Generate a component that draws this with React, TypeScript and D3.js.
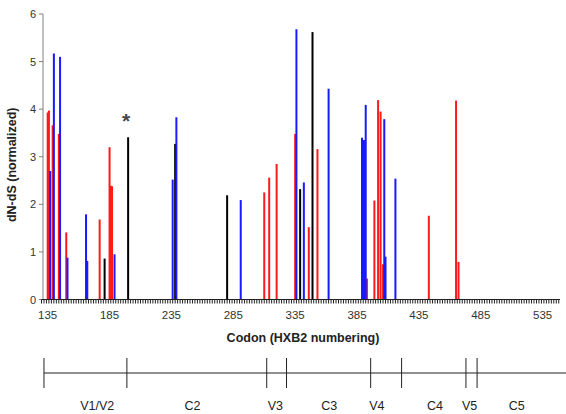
import React from "react";
import * as d3 from "d3";

// dN-dS (normalized) per codon, grouped by bar colour
const redCodons = [135, 136, 139, 144, 150, 177, 185, 186, 187, 310, 314, 320, 335, 346, 353, 393, 399, 402, 404, 406, 443, 465, 467];
const redValues = [3.93, 3.97, 3.66, 3.48, 1.41, 1.68, 3.2, 2.39, 2.38, 2.25, 2.56, 2.85, 3.48, 1.52, 3.16, 0.44, 2.08, 4.19, 3.95, 0.74, 1.76, 4.18, 0.79];

const blueCodons = [137, 140, 145, 151, 166, 167, 189, 236, 239, 291, 336, 342, 362, 389, 390, 391, 392, 407, 408, 416];
const blueValues = [2.7, 5.17, 5.1, 0.88, 1.79, 0.81, 0.95, 2.52, 3.83, 2.09, 5.68, 2.46, 4.43, 3.4, 3.35, 3.35, 4.09, 3.79, 0.9, 2.54];

const blackCodons = [181, 200, 238, 280, 339, 349];
const blackValues = [0.86, 3.41, 3.27, 2.19, 2.32, 5.62];

const starredCodon = 200;

const xTickLabels = [135, 185, 235, 285, 335, 385, 435, 485, 535];
const yTicks = [0, 1, 2, 3, 4, 5, 6];

// env region map below the axis
const regionBounds = [132, 199, 312, 328, 396, 421, 473, 482];
const regionNames = ["V1/V2", "C2", "V3", "C3", "V4", "C4", "V5", "C5"];
const regionLabelAt = [175, 252, 319, 362.5, 401, 448, 476, 514];

const W = 566;
const H = 414;
const FONT = "Liberation Sans, Arial, sans-serif";

export default function App() {
  const x = d3.scaleLinear().domain([130, 549]).range([41.5, 560]);
  const y = d3.scaleLinear().domain([0, 6]).range([299.5, 14]);
  const axisX = 43;

  const series = [
    { codons: blackCodons, values: blackValues, color: "#000000" },
    { codons: redCodons, values: redValues, color: "#ff1a1a" },
    { codons: blueCodons, values: blueValues, color: "#1a1aff" },
  ];

  const minorTicks = d3.range(130, 550, 2);
  const mapLineY = 373;

  return (
    <svg
      width={W}
      height={H}
      style={{ position: "absolute", left: 0, top: 0, background: "#fff" }}
      fontFamily={FONT}
    >
      {/* bars */}
      {series.map((s, si) =>
        s.codons.map((c, i) => (
          <rect
            key={`${si}-${i}`}
            x={x(c) - 1}
            y={y(s.values[i])}
            width={2}
            height={y(0) - y(s.values[i])}
            fill={s.color}
          />
        ))
      )}

      {/* significance marker */}
      <text
        x={x(starredCodon) - 2}
        y={y(blackValues[blackCodons.indexOf(starredCodon)]) - 9}
        textAnchor="middle"
        fontSize={21}
        fontWeight="bold"
        fill="#444"
      >
        *
      </text>

      {/* y axis */}
      <line x1={axisX} x2={axisX} y1={y(6)} y2={y(0)} stroke="#808080" strokeWidth={1} />
      {yTicks.map((t) => (
        <g key={t}>
          <line x1={axisX - 4} x2={axisX} y1={y(t)} y2={y(t)} stroke="#808080" />
          <text
            x={axisX - 7}
            y={y(t) + 4}
            textAnchor="end"
            fontSize={11}
            fill="#333"
          >
            {t}
          </text>
        </g>
      ))}
      <text
        transform={`translate(16,${(y(0) + y(6)) / 2 + 8}) rotate(-90)`}
        textAnchor="middle"
        fontSize={12.5}
        fontWeight="bold"
        fill="#222"
      >
        dN-dS (normalized)
      </text>

      {/* x axis */}
      <line x1={x(130)} x2={x(549)} y1={y(0)} y2={y(0)} stroke="#222" strokeWidth={1.2} />
      {minorTicks.map((t) => (
        <line
          key={t}
          x1={x(t)}
          x2={x(t)}
          y1={y(0)}
          y2={y(0) + 4}
          stroke="#222"
          strokeWidth={1}
        />
      ))}
      {xTickLabels.map((t) => (
        <text key={t} x={x(t)} y={319} textAnchor="middle" fontSize={11.5} fill="#333">
          {t}
        </text>
      ))}
      <text x={303} y={342} textAnchor="middle" fontSize={12.5} fontWeight="bold" fill="#222">
        Codon (HXB2 numbering)
      </text>

      {/* region map */}
      <line x1={x(regionBounds[0])} x2={W} y1={mapLineY} y2={mapLineY} stroke="#222" strokeWidth={1.2} />
      {regionBounds.map((b) => (
        <line
          key={b}
          x1={x(b)}
          x2={x(b)}
          y1={mapLineY - 15}
          y2={mapLineY + 15}
          stroke="#222"
          strokeWidth={1}
        />
      ))}
      {regionNames.map((n, i) => (
        <text key={n} x={x(regionLabelAt[i])} y={410} textAnchor="middle" fontSize={12.5} fill="#222">
          {n}
        </text>
      ))}
    </svg>
  );
}
